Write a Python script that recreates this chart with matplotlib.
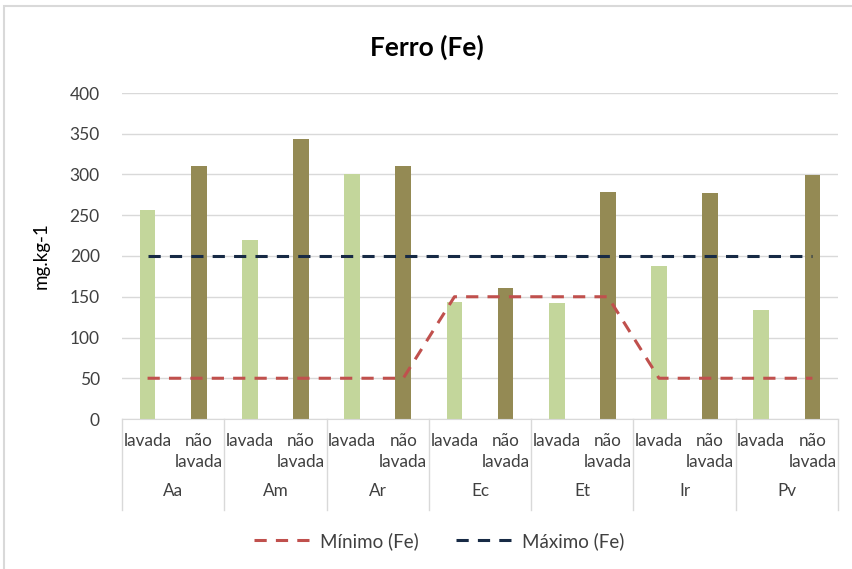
import numpy as np
import matplotlib.pyplot as plt
from matplotlib.patches import Rectangle

plt.rcParams['font.family'] = ['Lato', 'DejaVu Sans']

# Iron content per species, washed vs unwashed leaves
especies = ['Aa', 'Am', 'Ar', 'Ec', 'Et', 'Ir', 'Pv']
tratamentos = ['lavada', 'não\nlavada']
lavada = [257, 220, 300, 143, 142, 188, 134]
nao_lavada = [310, 344, 310, 161, 279, 277, 299]
# reference limits, one value per category (species x treatment)
minimo_fe = [50, 50, 50, 50, 50, 50, 150, 150, 150, 150, 50, 50, 50, 50]
maximo_fe = [200] * 14
yticks = [0, 50, 100, 150, 200, 250, 300, 350, 400]

cor_lavada = '#C3D69B'
cor_nao = '#948A54'
cor_min = '#C0504D'
cor_max = '#172A45'
texto = '#404040'

fig = plt.figure(figsize=(8.53, 5.69), dpi=100)
ax = fig.add_axes([122 / 853, 1 - 419 / 569, 716 / 853, 326 / 569])

# light frame around the whole chart (right and bottom edges fall outside)
fig.patches.append(Rectangle((4 / 853, -0.1), 1.2, 1.1 - 6 / 569,
                             transform=fig.transFigure, fill=False,
                             edgecolor='#D9D9D9', linewidth=1.5))

n = len(especies)
x_lav = np.arange(n) * 2
x_nao = x_lav + 1
largura = 0.31

ax.bar(x_lav, lavada, width=largura, color=cor_lavada, zorder=2)
ax.bar(x_nao, nao_lavada, width=largura, color=cor_nao, zorder=2)

xc = np.arange(2 * n)
linha_min, = ax.plot(xc, minimo_fe, color=cor_min, lw=2.2, dashes=(4, 3),
                     label='Mínimo (Fe)', zorder=3)
linha_max, = ax.plot(xc, maximo_fe, color=cor_max, lw=2.2, dashes=(4, 3),
                     label='Máximo (Fe)', zorder=3)

ax.set_xlim(-0.5, 2 * n - 0.5)
ax.set_ylim(0, 400)
ax.set_yticks(yticks)
ax.tick_params(axis='y', length=0, labelsize=12.5, labelcolor=texto, pad=16)
ax.set_xticks([])
for s in ['top', 'right', 'left']:
    ax.spines[s].set_visible(False)
ax.spines['bottom'].set_color('#D9D9D9')
ax.yaxis.grid(True, color='#D9D9D9', linewidth=1)
ax.set_axisbelow(True)
ax.set_ylabel('mg.kg-1', fontsize=13.5, color='black', labelpad=14)

# two-level category axis: treatment row, then species row
tr = ax.get_xaxis_transform()
for i, esp in enumerate(especies):
    for j, rot in enumerate(tratamentos):
        ax.text(2 * i + j, -0.042, rot, transform=tr, ha='center', va='top',
                fontsize=12.3, color=texto, linespacing=1.4)
    ax.text(2 * i + 0.5, -0.221, esp, transform=tr, ha='center', va='center',
            fontsize=12.3, color=texto)
for b in np.arange(n + 1) * 2 - 0.5:
    ax.plot([b, b], [0, -0.279], transform=tr, color='#D9D9D9', lw=1,
            clip_on=False)

fig.text(0.5, 1 - 47 / 569, 'Ferro (Fe)', ha='center', va='center',
         fontsize=19, fontweight='bold', color='black')

fig.legend(handles=[linha_min, linha_max], loc='center', ncol=2,
           bbox_to_anchor=(0.515, 1 - 541 / 569), frameon=False, fontsize=13.5,
           handlelength=3.0, handletextpad=0.5, columnspacing=2.0,
           labelcolor=texto)

fig.savefig('out.png', dpi=100)
